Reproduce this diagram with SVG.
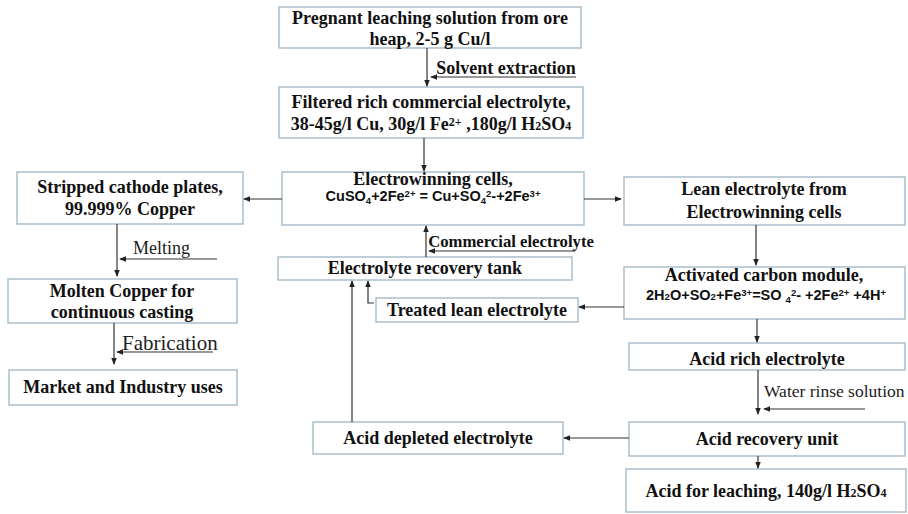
<svg xmlns="http://www.w3.org/2000/svg" width="908" height="514" viewBox="0 0 908 514">
<defs>
<marker id="ah" viewBox="0 0 8 8" refX="7" refY="4" markerWidth="7" markerHeight="7" markerUnits="userSpaceOnUse" orient="auto">
<path d="M0,0.8 L8,4 L0,7.2 Z" fill="#222"/>
</marker>
<style>
.box{fill:#fff;stroke:#9db4c3;stroke-width:1.3}
.t{font-family:"Liberation Serif","Times New Roman",serif;font-weight:bold;font-size:18px;fill:#111;text-anchor:middle}
.eq{font-family:"Liberation Sans",Arial,sans-serif;font-weight:bold;font-size:14.5px;fill:#111;text-anchor:middle}
.lbl{font-family:"Liberation Serif","Times New Roman",serif;font-size:17px;fill:#222}
.c{fill:none;stroke:#333;stroke-width:1.2}
.ca{fill:none;stroke:#333;stroke-width:1.2;marker-end:url(#ah)}
</style>
</defs>
<rect width="908" height="514" fill="#fff"/>

<g id="pregnant"><rect class="box" x="279" y="7" width="302" height="41"/>
<text class="t" x="430" y="24">Pregnant leaching solution from ore</text>
<text class="t" x="430" y="45">heap, 2-5 g Cu/l</text></g>

<g id="filtered"><rect class="box" x="279" y="87" width="304" height="51"/>
<text class="t" x="431" y="108">Filtered rich commercial electrolyte,</text>
<text class="t" x="431" y="130">38-45g/l Cu, 30g/l Fe<tspan font-size="12" baseline-shift="35%">2+</tspan> ,180g/l H<tspan font-size="12">2</tspan>SO<tspan font-size="12">4</tspan></text></g>

<g id="electrowinning"><rect class="box" x="282" y="172" width="302" height="53"/>
<text class="t" x="433" y="185">Electrowinning cells,</text>
<text class="eq" x="433" y="201">CuSO<tspan font-size="9.5" baseline-shift="-25%">4</tspan>+2Fe<tspan font-size="9.5" baseline-shift="40%">2+</tspan> = Cu+SO<tspan font-size="9.5" baseline-shift="-25%">4</tspan><tspan font-size="9.5" baseline-shift="40%">2</tspan>-+2Fe<tspan font-size="9.5" baseline-shift="40%">3+</tspan></text></g>

<g id="tank"><rect class="box" x="278" y="257" width="294" height="23"/>
<text class="t" x="425" y="274">Electrolyte recovery tank</text></g>

<g id="treated"><rect class="box" x="376" y="298" width="202" height="24"/>
<text class="t" x="477" y="316">Treated lean electrolyte</text></g>

<g id="stripped"><rect class="box" x="17" y="172" width="226" height="52"/>
<text class="t" x="130" y="193">Stripped cathode plates,</text>
<text class="t" x="130" y="215">99.999% Copper</text></g>

<g id="molten"><rect class="box" x="8" y="279" width="229" height="44"/>
<text class="t" x="122" y="297">Molten Copper for</text>
<text class="t" x="122" y="318">continuous casting</text></g>

<g id="market"><rect class="box" x="9" y="370" width="228" height="35"/>
<text class="t" x="123" y="393">Market and Industry uses</text></g>

<g id="lean"><rect class="box" x="624" y="177" width="281" height="48"/>
<text class="t" x="764" y="195">Lean electrolyte from</text>
<text class="t" x="764" y="218">Electrowinning cells</text></g>

<g id="activated"><rect class="box" x="624" y="267" width="281" height="52"/>
<text class="t" x="764" y="281">Activated carbon module,</text>
<text class="eq" x="766" y="300">2H<tspan font-size="9.5">2</tspan>O+SO<tspan font-size="9.5">2</tspan>+Fe<tspan font-size="9.5" baseline-shift="40%">3+</tspan>=SO <tspan font-size="9.5" baseline-shift="-25%">4</tspan><tspan font-size="9.5" baseline-shift="40%">2</tspan>- +2Fe<tspan font-size="9.5" baseline-shift="40%">2+</tspan> +4H<tspan font-size="9.5" baseline-shift="40%">+</tspan></text></g>

<g id="acidrich"><rect class="box" x="629" y="343" width="276" height="27"/>
<text class="t" x="767" y="365">Acid rich electrolyte</text></g>

<g id="acidrecovery"><rect class="box" x="629" y="422" width="276" height="34"/>
<text class="t" x="767" y="445">Acid recovery unit</text></g>

<g id="aciddepleted"><rect class="box" x="313" y="422" width="250" height="32"/>
<text class="t" x="438" y="444">Acid depleted electrolyte</text></g>

<g id="acidleaching"><rect class="box" x="626" y="469" width="280" height="43"/>
<text class="t" x="766" y="497">Acid for leaching, 140g/l H<tspan font-size="12">2</tspan>SO<tspan font-size="12">4</tspan></text></g>

<g id="connectors">
<line class="ca" x1="427" y1="48" x2="427" y2="86"/>
<line class="ca" x1="576" y1="77" x2="431" y2="77"/>
<line class="ca" x1="424" y1="138" x2="424" y2="171"/>
<line class="ca" x1="282" y1="199" x2="244" y2="199"/>
<line class="ca" x1="584" y1="199" x2="621" y2="199"/>
<line class="ca" x1="426" y1="257" x2="426" y2="226"/>
<line class="ca" x1="575" y1="251" x2="429" y2="251"/>
<line class="ca" x1="756" y1="225" x2="756" y2="265"/>
<line class="ca" x1="624" y1="307" x2="579" y2="307"/>
<polyline class="ca" points="374,303 368,303 368,281"/>
<line class="ca" x1="352" y1="422" x2="352" y2="281"/>
<line class="ca" x1="757" y1="319" x2="757" y2="342"/>
<line class="ca" x1="758" y1="370" x2="758" y2="414"/>
<line class="ca" x1="865" y1="409" x2="764" y2="409"/>
<line class="ca" x1="629" y1="438" x2="564" y2="438"/>
<line class="ca" x1="758" y1="456" x2="758" y2="468"/>
<line class="ca" x1="117" y1="224" x2="117" y2="276"/>
<line class="ca" x1="217" y1="259" x2="120" y2="259"/>
<line class="ca" x1="114" y1="323" x2="114" y2="364"/>
<line class="ca" x1="213" y1="352" x2="117" y2="352"/>
<text class="t" x="511" y="247" style="font-size:16.7px">Commercial electrolyte</text>
<text class="t" x="506" y="74">Solvent extraction</text>
<text class="lbl" x="133" y="254" style="font-size:18px">Melting</text>
<text class="lbl" x="122" y="350" style="font-size:21px">Fabrication</text>
<text class="lbl" x="764" y="397" style="font-size:17.5px">Water rinse solution</text>
</g>
</svg>
